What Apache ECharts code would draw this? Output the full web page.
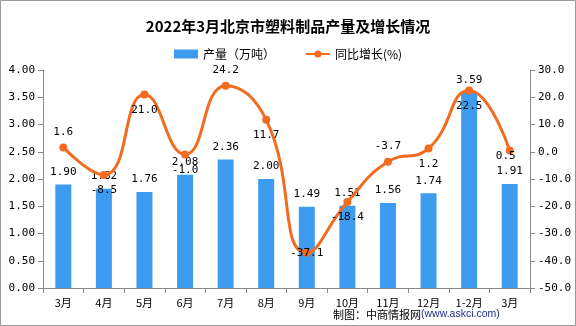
<!DOCTYPE html>
<html><head><meta charset="utf-8">
<script src="https://cdn.jsdelivr.net/npm/echarts@6/dist/echarts.min.js"></script>
<style>html,body{margin:0;padding:0;background:#fff}#c{width:576px;height:326px}</style>
</head><body><div id="c"></div>
<script>
const categories = ['3月','4月','5月','6月','7月','8月','9月','10月','11月','12月','1-2月','3月'];
const production = [1.90,1.82,1.76,2.08,2.36,2.00,1.49,1.51,1.56,1.74,3.59,1.91];
const growth = [1.6,-8.5,21.0,-1.0,24.2,11.7,-37.1,-18.4,-3.7,1.2,22.5,0.5];
const leftTicks = [0,4,0.5];
const rightTicks = [-50,30,10];
const growthLabelPos = ['top','bottom','bottom','bottom','top','bottom','inside','bottom','top','bottom','bottom','inside'];
const growthLabelOffset = [[0,0],[0,0],[0,0],[0,0],[0,0],[0,0],[0,0],[0,0],[0,0],[0,0],[0,0],[-4,6]];

const font = '"Noto Sans CJK SC", sans-serif';
const mono = '"DejaVu Sans Mono", monospace';
const chart = echarts.init(document.getElementById('c'), null, {renderer:'canvas'});
chart.setOption({
  animation:false,
  title:{text:'2022年3月北京市塑料制品产量及增长情况',left:'center',top:14,
    textStyle:{fontFamily:font,fontSize:15,fontWeight:'bold',color:'#000'}},
  legend:{top:43,left:'center',itemGap:30,itemWidth:24,itemHeight:9,
    textStyle:{fontFamily:font,fontSize:12,color:'#000'},
    data:[{name:'产量（万吨）',icon:'rect'},{name:'同比增长(%)'}]},
  grid:{left:43,right:46,top:70,bottom:38},
  xAxis:{type:'category',data:categories,
    axisLine:{lineStyle:{color:'#888'}},axisTick:{show:true,lineStyle:{color:'#888'}},
    axisLabel:{fontFamily:font,fontSize:11,color:'#000',margin:9}},
  yAxis:[{type:'value',min:leftTicks[0],max:leftTicks[1],interval:leftTicks[2],
    axisLine:{show:true,lineStyle:{color:'#888'}},axisTick:{show:true,lineStyle:{color:'#888'}},
    splitLine:{show:false},
    axisLabel:{fontFamily:mono,fontSize:11,color:'#000',formatter:v=>v.toFixed(2)}},
   {type:'value',min:rightTicks[0],max:rightTicks[1],interval:rightTicks[2],
    axisLine:{show:true,lineStyle:{color:'#888'}},axisTick:{show:true,lineStyle:{color:'#888'}},
    splitLine:{show:false},
    axisLabel:{fontFamily:mono,fontSize:11,color:'#000',formatter:v=>v.toFixed(1)}}],
  series:[
   {name:'产量（万吨）',type:'bar',data:production,barWidth:16,itemStyle:{color:'#3d9cf0'},
    label:{show:true,position:'top',distance:7,fontFamily:mono,fontSize:11,color:'#000',formatter:p=>p.value.toFixed(2)}},
   {name:'同比增长(%)',type:'line',yAxisIndex:1,smooth:0.5,
    data:growth.map((v,i)=>({value:v,label:{position:growthLabelPos[i],offset:growthLabelOffset[i]}})),
    symbol:'circle',symbolSize:8,lineStyle:{color:'#f26b1f',width:3},itemStyle:{color:'#f26b1f'},
    label:{show:true,distance:6,fontFamily:mono,fontSize:11,color:'#000',formatter:p=>p.value.toFixed(1)}}
  ],
  graphic:[
   {type:'rect',shape:{x:0.5,y:0.5,width:575,height:325},style:{fill:'none',stroke:'#999',lineWidth:1}},
   {type:'text',left:333,top:309,z:10,style:{
     text:'{a|制图：中商情报网}{b|(www.askci.com)}',
     rich:{a:{fontFamily:font,fontSize:11,fill:'#000'},b:{fontFamily:'"Liberation Sans", sans-serif',fontSize:10.5,fill:'#1c2f8a'}}}}
  ]
});
</script></body></html>
